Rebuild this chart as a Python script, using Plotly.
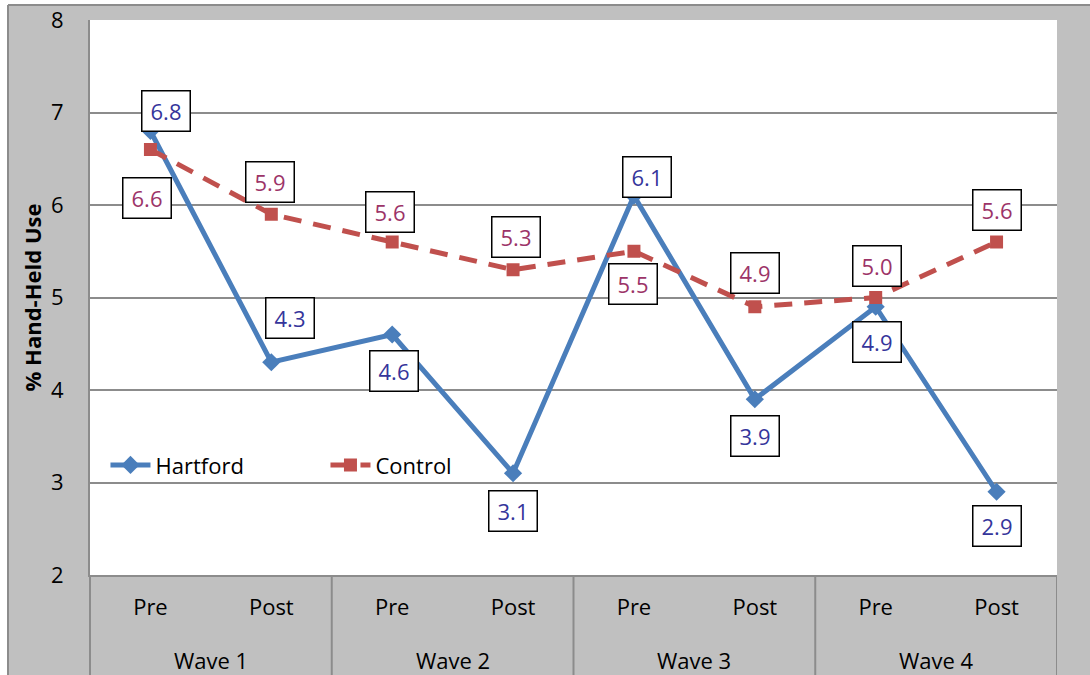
import plotly.graph_objects as go

# Survey waves and measurement periods
waves = ["Wave 1", "Wave 2", "Wave 3", "Wave 4"]
periods = ["Pre", "Post", "Pre", "Post", "Pre", "Post", "Pre", "Post"]

# Percent of drivers observed using a hand-held phone
hartford = [6.8, 4.3, 4.6, 3.1, 6.1, 3.9, 4.9, 2.9]
control = [6.6, 5.9, 5.6, 5.3, 5.5, 4.9, 5.0, 5.6]

# Pixel offsets of each value label from its point
hartford_shift = [(16, 20), (19, 44), (2, -36), (0, -38), (13, 19), (0, -37), (1, -35), (0, -34)]
control_shift = [(-3, -48), (-1, 32), (-2, 30), (3, 33), (-1, -33), (0, 34), (1, 32), (0, 32)]

BLUE = "#4a7ebb"
RED = "#c0504d"
BLUE_TXT = "#35359b"
RED_TXT = "#9c3468"
GRID = "#8c8c8c"
BG = "#c0c0c0"
FONT = "Open Sans, Noto Sans, sans-serif"
FS = 22

xs = list(range(len(periods)))

fig = go.Figure()
fig.add_trace(go.Scatter(
    x=xs, y=hartford, name="Hartford", mode="lines+markers",
    line=dict(color=BLUE, width=5),
    marker=dict(symbol="diamond", size=14, color=BLUE),
))
fig.add_trace(go.Scatter(
    x=xs, y=control, name="Control", mode="lines+markers",
    line=dict(color=RED, width=5, dash="18px,12px"),
    marker=dict(symbol="square", size=13, color=RED),
))

annotations = []
for x, v, (dx, dy) in zip(xs, hartford, hartford_shift):
    annotations.append(dict(
        x=x, y=v, xref="x", yref="y", text=f"{v:.1f}", showarrow=False,
        xshift=dx, yshift=dy, font=dict(family=FONT, size=FS, color=BLUE_TXT),
        bgcolor="white", bordercolor="black", borderwidth=1.5,
        width=43, height=35, borderpad=2,
    ))
for x, v, (dx, dy) in zip(xs, control, control_shift):
    annotations.append(dict(
        x=x, y=v, xref="x", yref="y", text=f"{v:.1f}", showarrow=False,
        xshift=dx, yshift=dy, font=dict(family=FONT, size=FS, color=RED_TXT),
        bgcolor="white", bordercolor="black", borderwidth=1.5,
        width=43, height=35, borderpad=2,
    ))

# Wave labels on the second row of the category axis
for i, w in enumerate(waves):
    annotations.append(dict(
        x=2 * i + 0.5, y=-0.153, xref="x", yref="paper", text=w,
        showarrow=False, font=dict(family=FONT, size=FS, color="black"),
        yanchor="middle",
    ))

shapes = [
    # white margin strips around the grey chart area
    dict(type="rect", xref="paper", yref="paper", x0=-0.2, x1=-0.0848, y0=-0.3, y1=1.2,
         fillcolor="white", line=dict(width=0), layer="below"),
    dict(type="rect", xref="paper", yref="paper", x0=-0.2, x1=1.2, y0=1.027, y1=1.2,
         fillcolor="white", line=dict(width=0), layer="below"),
    dict(type="line", xref="paper", yref="paper", x0=-0.0848, x1=-0.0848, y0=-0.3, y1=1.027,
         line=dict(color=GRID, width=2)),
    dict(type="line", xref="paper", yref="paper", x0=-0.0848, x1=1.2, y0=1.027, y1=1.027,
         line=dict(color=GRID, width=2)),
    # left axis line continued through the category table
    dict(type="line", xref="paper", yref="paper", x0=0, x1=0, y0=-0.2, y1=0,
         line=dict(color=GRID, width=2)),
]
# dividers between waves in the category table
for xd in [1.5, 3.5, 5.5, 7.5]:
    shapes.append(dict(type="line", xref="x", yref="paper", x0=xd, x1=xd, y0=-0.2, y1=0,
                       line=dict(color=GRID, width=2)))

fig.update_layout(
    width=1090, height=675,
    margin=dict(l=90, r=33, t=20, b=100, autoexpand=False),
    paper_bgcolor=BG, plot_bgcolor="white",
    font=dict(family=FONT, size=FS, color="black"),
    showlegend=True,
    legend=dict(
        orientation="h", x=0.016, y=0.198, xanchor="left", yanchor="middle",
        bgcolor="rgba(0,0,0,0)", font=dict(family=FONT, size=FS, color="black"),
        itemwidth=40, entrywidth=165, entrywidthmode="pixels",
    ),
    xaxis=dict(
        range=[-0.5, 7.5], tickmode="array", tickvals=xs, ticktext=periods,
        showgrid=False, zeroline=False, showline=True, linecolor=GRID, linewidth=2,
        ticks="", ticklabelstandoff=12, tickfont=dict(family=FONT, size=FS),
        fixedrange=True, automargin=False,
    ),
    yaxis=dict(
        range=[2, 8], dtick=1, tick0=2, showgrid=True, gridcolor=GRID, gridwidth=1.5,
        zeroline=False, showline=True, linecolor=GRID, linewidth=2, mirror=False,
        ticks="", ticklabelstandoff=20, tickfont=dict(family=FONT, size=FS),
        title=dict(text="<b>% Hand-Held Use</b>", standoff=3,
                   font=dict(family=FONT, size=22)),
        fixedrange=True, automargin=False,
    ),
    annotations=annotations,
    shapes=shapes,
)

fig.write_html("out.html")
